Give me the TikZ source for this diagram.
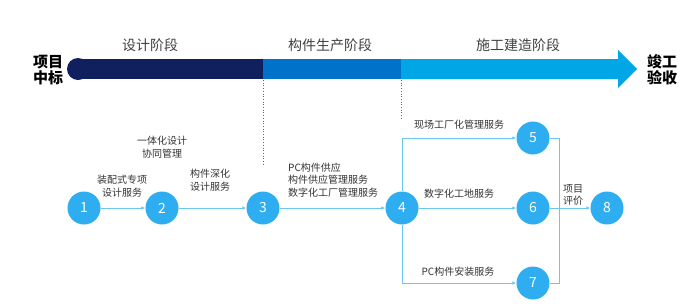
\documentclass[tikz,border=0pt]{standalone}
\usepackage{fontspec}
\setmainfont{Noto Sans CJK SC}
\usetikzlibrary{arrows.meta}
\definecolor{navy}{HTML}{101F5E}
\definecolor{midblue}{HTML}{0072CA}
\definecolor{lightblue}{HTML}{00A6E6}
\definecolor{circblue}{HTML}{2EAEF0}
\definecolor{linkblue}{HTML}{6CC6F3}
\definecolor{txt}{HTML}{333333}
\tikzset{
  stepcirc/.style={circle, fill=circblue, minimum size=33pt, inner sep=0pt, text=white, font=\fontsize{14}{16}\selectfont},
  conn/.style={draw=linkblue, line width=0.8pt, -{Latex[length=4pt,width=3.5pt]}},
  plainline/.style={draw=linkblue, line width=0.8pt},
  lbl/.style={text=txt, font=\fontsize{10}{12.5}\selectfont, inner sep=0pt, align=center},
  stagelbl/.style={text=black!75, font=\fontsize{14}{16}\selectfont, inner sep=0pt},
  endlbl/.style={text=black, font=\bfseries\fontsize{15}{16}\selectfont, inner sep=0pt, align=center},
  sep/.style={draw=black!60, dotted, line width=0.7pt}
}
\begin{document}
\begin{tikzpicture}[x=1pt,y=-1pt]
\useasboundingbox (0,0) rectangle (700,306);
% phase bar
\fill[navy] (78,69) circle (11);
\fill[navy] (78,59) rectangle (263,79);
\fill[midblue] (263,59) rectangle (401,79);
\fill[lightblue] (401,59) -- (618,59) -- (618,50) -- (637,69) -- (618,88) -- (618,79) -- (401,79) -- cycle;
% separators
\draw[sep] (263,80) -- (263,166);
\draw[sep] (401,80) -- (401,118);
% stage labels
\node[stagelbl] (s1) at (150,45) {设计阶段};
\node[stagelbl] (s2) at (330,45) {构件生产阶段};
\node[stagelbl] (s3) at (518,45) {施工建造阶段};
\node[endlbl] (st) at (48,70) {项目\\中标};
\node[endlbl] (en) at (662,70) {竣工\\验收};
% circles
\node[stepcirc] (n1) at (84,208) {1};
\node[stepcirc] (n2) at (162,208) {2};
\node[stepcirc] (n3) at (263,208) {3};
\node[stepcirc] (n4) at (402,208) {4};
\node[stepcirc] (n5) at (533,138) {5};
\node[stepcirc] (n6) at (533,208) {6};
\node[stepcirc] (n7) at (533,283) {7};
\node[stepcirc] (n8) at (607,208) {8};
\coordinate (j) at (559,208);
% connectors
\draw[conn] (n1) -- (n2);
\draw[conn] (n2) -- (n3);
\draw[conn] (n3) -- (n4);
\draw[conn] (n4) -- (n6);
\draw[conn] (n4.north) |- (n5);
\draw[conn] (n4.south) |- (n7);
\draw[plainline] (n5) -| (j);
\draw[plainline] (n7) -| (j);
\draw[conn] (n6) -- (n8);
% labels
\node[lbl] (l1) at (122,186) {装配式专项\\设计服务};
\node[lbl] (l2) at (162,147) {一体化设计\\协同管理};
\node[lbl] (l3) at (210,180) {构件深化\\设计服务};
\node[lbl, align=left, anchor=west] (l4) at (288,180) {PC构件供应\\构件供应管理服务\\数字化工厂管理服务};
\node[lbl] (l5) at (459,125) {现场工厂化管理服务};
\node[lbl] (l6) at (459,194) {数字化工地服务};
\node[lbl] (l7) at (458,272) {PC构件安装服务};
\node[lbl, align=left, anchor=west] (l8) at (563,195) {项目\\评价};
\end{tikzpicture}
\end{document}
